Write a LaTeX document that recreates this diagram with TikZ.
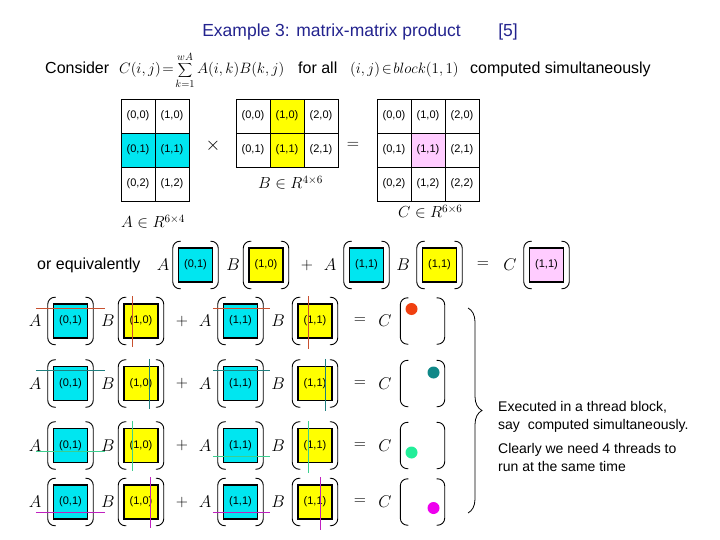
\documentclass[tikz,border=0pt]{standalone}
\usepackage{fix-cm}
\usepackage{fontspec}
\setmainfont{Liberation Sans}
\usepackage{tikz}
\usetikzlibrary{calc,positioning,decorations.pathreplacing}
\definecolor{mmNavy}{HTML}{23238E}
\definecolor{mmCyan}{HTML}{00E6F0}
\definecolor{mmYellow}{HTML}{FFFF00}
\definecolor{mmPink}{HTML}{FFCCFF}
\definecolor{lnOne}{HTML}{C8502F}
\definecolor{lnTwo}{HTML}{1F7F7F}
\definecolor{lnThree}{HTML}{3CCF8F}
\definecolor{lnFour}{HTML}{C020C0}
\definecolor{dtOne}{HTML}{F04010}
\definecolor{dtTwo}{HTML}{108888}
\definecolor{dtThree}{HTML}{22EE99}
\definecolor{dtFour}{HTML}{EE00EE}
% round brackets around a block node
\newcommand{\brkt}[1]{%
  \draw[paren] ($(#1.north west)+(3,-6)$) -- ($(#1.north west)+(-5,-6)$) -- ($(#1.south west)+(-5,6)$) -- ($(#1.south west)+(3,6)$);
  \draw[paren] ($(#1.north east)+(-3,-6)$) -- ($(#1.north east)+(5,-6)$) -- ($(#1.south east)+(5,6)$) -- ($(#1.south east)+(-3,6)$);}

\begin{document}
\begin{tikzpicture}[x=1pt, y=-1pt,
  cellbox/.style={draw, line width=0.8pt, minimum size=34pt, inner sep=0pt, font=\fontsize{11}{13}\selectfont},
  blk/.style={draw, line width=1.5pt, minimum width=34pt, minimum height=34pt, inner sep=0pt, font=\fontsize{11}{13}\selectfont},
  ghost/.style={minimum width=34pt, minimum height=34pt, inner sep=0pt},
  mvar/.style={font=\fontsize{17}{17}\selectfont, inner sep=0pt},
  op/.style={font=\fontsize{16}{16}\selectfont, inner sep=0pt},
  paren/.style={line width=0.9pt, rounded corners=7pt},
  body/.style={font=\fontsize{16}{19}\selectfont, inner sep=0pt},
  note/.style={font=\fontsize{14}{18}\selectfont, inner sep=0pt, align=left},
  hdr/.style={font=\fontsize{17.5}{20}\selectfont, text=mmNavy, inner sep=0pt}
]
  \useasboundingbox (0,0) rectangle (720,540);
  \node[hdr] (title) at (331.5,32) {Example 3: matrix-matrix product};
  \node[hdr] (ref) at (508,32) {[5]};

  \node[body, anchor=base west] (consider) at (45,74) {Consider};
  \node[body, anchor=base west, font=\fontsize{15}{18}\selectfont] (sum) at (119,74) {$C\bigl(i,j\bigr)\!=\!\displaystyle\sum_{k=1}^{wA} A\bigl(i,k\bigr)B\bigl(k,j\bigr)$};
  \node[body, anchor=base west] (forall) at (298,74) {for all};
  \node[body, anchor=base west, font=\fontsize{15}{18}\selectfont] (blockset) at (350,74) {$\bigl(i,j\bigr)\!\in\! block\bigl(1,1\bigr)$};
  \node[body, anchor=base west] (simul) at (470,74) {computed simultaneously};

  % the three matrices
  \foreach \c in {0,1} \foreach \r in {0,1,2} {
    \ifnum\r=1 \def\clr{mmCyan}\else\def\clr{white}\fi
    \node[cellbox, fill=\clr] (a\c\r) at (138+34*\c,116+34*\r) {(\c,\r)};
  }
  \foreach \c in {0,1,2} \foreach \r in {0,1} {
    \ifnum\c=1 \def\clr{mmYellow}\else\def\clr{white}\fi
    \node[cellbox, fill=\clr] (b\c\r) at (253+34*\c,116+34*\r) {(\c,\r)};
  }
  \foreach \c in {0,1,2} \foreach \r in {0,1,2} {
    \def\clr{white}
    \ifnum\c=1 \ifnum\r=1 \def\clr{mmPink}\fi\fi
    \node[cellbox, fill=\clr] (c\c\r) at (394+34*\c,116+34*\r) {(\c,\r)};
  }
  \node[font=\fontsize{19}{19}\selectfont] (times) at (213,146) {$\times$};
  \node[font=\fontsize{17}{17}\selectfont] (equals) at (353,145) {$=$};
  \node[body, anchor=base west] (alab) at (121,228) {$A\in R^{6\times 4}$};
  \node[body, anchor=base west] (blab) at (258,189) {$B\in R^{4\times 6}$};
  \node[body, anchor=base west] (clab) at (398,218) {$C\in R^{6\times 6}$};

  % or equivalently
  \node[body, anchor=base west] (equiv) at (37,269) {or equivalently};
  \node[mvar] (ea) at (163,265) {$A$};
  \node[blk, fill=mmCyan] (ea1) at (195.5,265) {(0,1)};
  \node[mvar] (eb) at (233,265) {$B$};
  \node[blk, fill=mmYellow] (eb1) at (266,265) {(1,0)};
  \node[op] (eplus) at (307,265) {$+$};
  \node[mvar] (ec) at (330,265) {$A$};
  \node[blk, fill=mmCyan] (ea2) at (366.5,265) {(1,1)};
  \node[mvar] (ed) at (403,265) {$B$};
  \node[blk, fill=mmYellow] (eb2) at (439.5,265) {(1,1)};
  \node[op] (eeq) at (483,265) {$=$};
  \node[mvar] (ee) at (510,265) {$C$};
  \node[blk, fill=mmPink] (ec1) at (546.5,265) {(1,1)};
  \foreach \n in {ea1,eb1,ea2,eb2,ec1} {\brkt{\n}}

  % one row per thread
  \foreach \i/\y/\lc/\dc/\ya/\yb/\xa/\xb/\dx/\dy in {
      1/321/lnOne/dtOne/5/5/9/11/-11/-12,
      2/383.5/lnTwo/dtTwo/5/5/26/28/11/-11,
      3/445.5/lnThree/dtThree/24/29/9/11/-11/7,
      4/502/lnFour/dtFour/28/28/27/23/11/6} {
    \node[mvar] (ra\i) at (35,\y) {$A$};
    \node[blk, fill=mmCyan] (pa\i) at (70.5,\y) {(0,1)};
    \node[mvar] (rb\i) at (108,\y) {$B$};
    \node[blk, fill=mmYellow] (pb\i) at (141,\y) {(1,0)};
    \node[op] (plus\i) at (182,\y) {$+$};
    \node[mvar] (rc\i) at (205,\y) {$A$};
    \node[blk, fill=mmCyan] (qa\i) at (240.5,\y) {(1,1)};
    \node[mvar] (rd\i) at (278,\y) {$B$};
    \node[blk, fill=mmYellow] (qb\i) at (315,\y) {(1,1)};
    \node[op] (eq\i) at (360,\y) {$=$};
    \node[mvar] (re\i) at (385,\y) {$C$};
    \node[ghost] (qc\i) at (422.5,\y) {};
    \brkt{pa\i} \brkt{pb\i} \brkt{qa\i} \brkt{qb\i} \brkt{qc\i}
    \draw[\lc, line width=0.9pt] ($(pa\i.north west)+(-17,\ya)$) -- ($(pa\i.north east)+(17,\ya)$);
    \draw[\lc, line width=0.9pt] ($(qa\i.north west)+(-10,\yb)$) -- ($(qa\i.north east)+(12,\yb)$);
    \draw[\lc, line width=0.9pt] ($(pb\i.north west)+(\xa,-7)$) -- ($(pb\i.south west)+(\xa,8)$);
    \draw[\lc, line width=0.9pt] ($(qb\i.north west)+(\xb,-7)$) -- ($(qb\i.south west)+(\xb,10)$);
    \fill[\dc] ($(qc\i)+(\dx,\dy)$) circle (6);
  }

  \draw[decorate, decoration={brace, amplitude=14pt}, line width=0.8pt] (468,308) -- (468,513);
  \node[note, anchor=north west] (exec) at (498,401) {Executed in a thread block,\\say\ \ computed simultaneously.};
  \node[note, below=11pt of exec.south west, anchor=north west] (clear) {Clearly we need 4 threads to\\run at the same time};
\end{tikzpicture}
\end{document}
